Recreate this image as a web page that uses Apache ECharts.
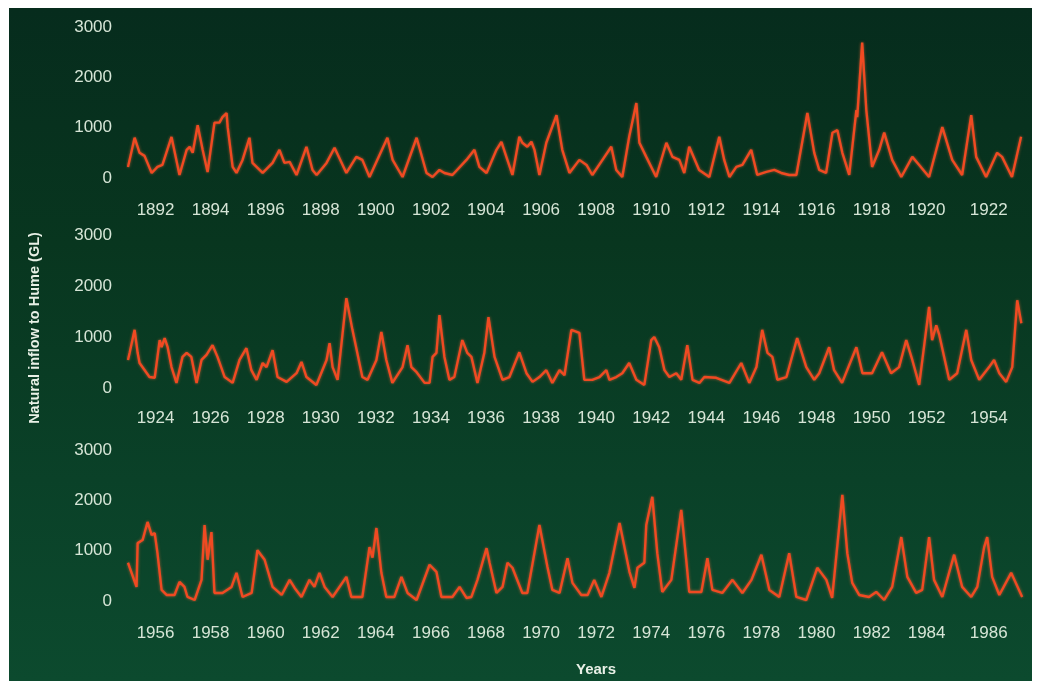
<!DOCTYPE html>
<html>
<head>
<meta charset="utf-8">
<script src="https://cdn.jsdelivr.net/npm/echarts@6/dist/echarts.min.js"></script>
<style>
html,body{margin:0;padding:0;background:#ffffff;}
#frame{position:absolute;left:9px;top:8px;width:1023px;height:673px;
background:linear-gradient(180deg,#062c1d 0%,#08361f 35%,#0a4128 70%,#0c4a2e 100%);}
#chart{position:absolute;left:0;top:0;width:1039px;height:689px;}
</style>
</head>
<body>
<div id="frame"></div>
<div id="chart"></div>
<script>
// ---- data (decimal year, GL) ----
const t1 = [1891.00,1891.24,1891.42,1891.60,1891.86,1892.07,1892.25,1892.58,1892.87,1893.13,1893.24,1893.35,1893.53,1893.71,1893.89,1894.14,1894.32,1894.43,1894.58,1894.62,1894.80,1894.94,1895.16,1895.41,1895.52,1895.89,1896.25,1896.50,1896.68,1896.87,1897.12,1897.48,1897.70,1897.85,1898.21,1898.50,1898.93,1899.29,1899.51,1899.77,1900.42,1900.61,1900.97,1901.48,1901.84,1902.06,1902.31,1902.49,1902.78,1903.29,1903.58,1903.76,1904.02,1904.38,1904.56,1904.74,1904.96,1905.21,1905.32,1905.50,1905.65,1905.76,1905.94,1906.19,1906.56,1906.77,1907.03,1907.39,1907.65,1907.86,1908.23,1908.55,1908.73,1908.95,1909.20,1909.46,1909.57,1909.82,1910.18,1910.55,1910.77,1911.02,1911.20,1911.38,1911.74,1912.11,1912.47,1912.65,1912.84,1913.09,1913.31,1913.63,1913.85,1914.18,1914.47,1914.72,1915.01,1915.27,1915.67,1915.92,1916.10,1916.35,1916.58,1916.76,1916.94,1917.19,1917.45,1917.48,1917.66,1917.81,1918.02,1918.28,1918.46,1918.75,1919.08,1919.48,1919.73,1920.09,1920.57,1920.93,1921.29,1921.62,1921.80,1922.16,1922.56,1922.74,1923.10,1923.43];
const v1 = [220,800,500,440,100,220,260,815,60,560,620,500,1050,560,120,1100,1100,1210,1290,1010,220,100,360,800,300,100,300,560,300,320,60,620,160,60,300,600,100,420,360,20,800,360,20,800,100,20,160,100,60,360,560,220,100,560,720,420,60,820,700,620,720,560,60,700,1250,560,100,360,260,60,360,620,160,20,820,1490,700,420,20,700,420,360,100,620,160,20,820,360,20,220,260,560,60,120,160,100,60,60,1290,500,160,100,900,950,500,60,1350,1210,2690,1350,220,560,900,360,20,420,260,20,1010,360,60,1250,420,20,500,420,20,820];

const t2 = [1923.00,1923.06,1923.24,1923.35,1923.42,1923.78,1923.97,1924.15,1924.22,1924.33,1924.44,1924.58,1924.76,1924.98,1925.13,1925.30,1925.49,1925.67,1925.85,1926.07,1926.25,1926.51,1926.80,1927.05,1927.30,1927.48,1927.67,1927.89,1928.03,1928.25,1928.43,1928.76,1929.12,1929.30,1929.48,1929.84,1930.21,1930.32,1930.43,1930.61,1930.93,1931.15,1931.51,1931.70,1932.02,1932.20,1932.38,1932.60,1932.97,1933.15,1933.29,1933.48,1933.77,1933.95,1934.06,1934.20,1934.31,1934.49,1934.67,1934.85,1935.14,1935.32,1935.47,1935.69,1935.94,1936.09,1936.31,1936.60,1936.85,1937.21,1937.47,1937.69,1937.94,1938.19,1938.41,1938.67,1938.85,1939.10,1939.39,1939.57,1939.86,1940.12,1940.37,1940.48,1940.73,1940.95,1941.20,1941.46,1941.75,1942.00,1942.11,1942.29,1942.48,1942.66,1942.91,1943.09,1943.31,1943.50,1943.75,1943.93,1944.36,1944.84,1945.27,1945.56,1945.82,1946.03,1946.22,1946.40,1946.58,1946.91,1947.30,1947.63,1947.92,1948.10,1948.46,1948.64,1948.93,1949.45,1949.67,1949.84,1950.02,1950.38,1950.71,1951.00,1951.26,1951.48,1951.73,1952.09,1952.20,1952.35,1952.46,1952.82,1953.11,1953.44,1953.62,1953.91,1954.27,1954.45,1954.64,1954.89,1955.11,1955.29,1955.44];
const v2 = [550,690,1140,690,490,215,200,940,800,980,800,410,100,610,690,610,100,550,650,840,610,215,100,550,780,350,160,490,410,740,215,120,290,510,215,60,550,880,410,160,1760,1140,215,160,550,1100,550,100,410,840,410,310,100,100,610,690,1430,610,160,215,940,690,610,100,690,1390,610,160,215,700,290,120,215,350,100,350,250,1140,1080,160,160,215,350,160,215,290,490,160,60,940,1000,800,350,215,290,160,840,160,100,215,200,100,490,100,410,1140,690,610,160,215,980,410,160,290,800,350,100,800,290,290,290,700,290,410,940,550,60,1590,940,1230,1040,160,290,1140,550,160,410,550,290,120,410,1720,1270];

const t3 = [1955.00,1955.31,1955.35,1955.53,1955.71,1955.86,1955.97,1956.07,1956.22,1956.40,1956.69,1956.87,1957.05,1957.16,1957.42,1957.67,1957.78,1957.89,1958.03,1958.14,1958.43,1958.76,1958.94,1959.16,1959.49,1959.70,1959.96,1960.25,1960.58,1960.87,1961.05,1961.30,1961.59,1961.77,1961.95,1962.14,1962.43,1962.93,1963.11,1963.51,1963.77,1963.88,1964.02,1964.20,1964.38,1964.67,1964.93,1965.15,1965.48,1965.95,1966.20,1966.38,1966.78,1967.04,1967.29,1967.47,1967.69,1968.02,1968.13,1968.38,1968.60,1968.78,1968.96,1969.32,1969.50,1969.94,1970.23,1970.41,1970.67,1970.96,1971.14,1971.46,1971.69,1971.93,1972.19,1972.48,1972.85,1973.21,1973.39,1973.50,1973.75,1973.82,1974.04,1974.22,1974.40,1974.73,1975.09,1975.27,1975.38,1975.82,1976.04,1976.22,1976.58,1976.95,1977.31,1977.64,1978.00,1978.29,1978.65,1979.01,1979.27,1979.63,1980.03,1980.36,1980.57,1980.94,1981.12,1981.30,1981.55,1981.91,1982.17,1982.46,1982.75,1983.08,1983.30,1983.62,1983.84,1984.09,1984.27,1984.57,1985.00,1985.29,1985.62,1985.84,1986.09,1986.20,1986.38,1986.64,1987.07,1987.47];
const v3 = [760,280,1150,1210,1570,1310,1350,950,220,120,120,380,280,80,20,420,1510,820,1370,160,160,280,560,80,160,1010,820,280,120,420,260,80,420,280,560,280,80,480,80,80,1070,860,1450,560,80,80,480,160,20,720,580,80,80,280,60,80,420,1050,760,160,280,760,660,160,160,1510,680,220,160,850,360,120,120,420,80,560,1550,580,260,660,760,1510,2070,950,180,420,1810,820,180,180,850,220,160,420,160,420,920,220,80,950,80,20,660,420,60,2110,950,360,120,80,180,20,280,1270,480,160,220,1270,420,80,920,280,80,280,1070,1270,480,120,560,80];

const ticks1 = [1892,1894,1896,1898,1900,1902,1904,1906,1908,1910,1912,1914,1916,1918,1920,1922];
const ticks2 = [1924,1926,1928,1930,1932,1934,1936,1938,1940,1942,1944,1946,1948,1950,1952,1954];
const ticks3 = [1956,1958,1960,1962,1964,1966,1968,1970,1972,1974,1976,1978,1980,1982,1984,1986];
const yTicks = [0,1000,2000,3000];
const yTitle = 'Natural inflow to Hume (GL)';
const xTitle = 'Years';

// ---- chart ----
const zip = (t, v) => t.map((x, i) => [x, v[i]]);
const panels = [
  {t: t1, v: v1, ticks: ticks1, min: 1891, max: 1923.5, top: 27, height: 151, margin: 24},
  {t: t2, v: v2, ticks: ticks2, min: 1923, max: 1955.5, top: 235, height: 153, margin: 22},
  {t: t3, v: v3, ticks: ticks3, min: 1955, max: 1987.5, top: 450, height: 151, margin: 24}
];
const txt = '#d6e5d6';
const font = 'Liberation Sans';
const chart = echarts.init(document.getElementById('chart'), null, {renderer: 'canvas'});
chart.setOption({
  backgroundColor: 'transparent',
  animation: false,
  grid: panels.map(p => ({left: 128, width: 895, top: p.top, height: p.height})),
  xAxis: panels.map((p, i) => ({
    type: 'value', gridIndex: i, min: p.min, max: p.max,
    axisLine: {show: false}, axisTick: {show: false}, splitLine: {show: false},
    axisLabel: {
      customValues: p.ticks, margin: p.margin, color: txt, fontFamily: font, fontSize: 17,
      formatter: v => (v === p.ticks[p.ticks.length - 1]) ? '{s|' + v + '}' : String(v),
      rich: {s: {color: txt, fontFamily: font, fontSize: 17, padding: [0, 0, 0, 14]}}
    }
  })),
  yAxis: panels.map((p, i) => ({
    type: 'value', gridIndex: i, min: 0, max: 3000, interval: 1000,
    axisLine: {show: false}, axisTick: {show: false}, splitLine: {show: false},
    axisLabel: {margin: 16, color: txt, fontFamily: font, fontSize: 17,
      formatter: v => yTicks.includes(v) ? String(v) : ''}
  })),
  graphic: [
    {type: 'text', x: 35, y: 328, rotation: Math.PI / 2,
     style: {text: yTitle, fill: '#e8f0e6', font: 'bold 14.5px "Liberation Sans"', align: 'center', verticalAlign: 'middle'}},
    {type: 'text', x: 596, y: 670,
     style: {text: xTitle, fill: '#e8f0e6', font: 'bold 15px "Liberation Sans"', align: 'center', verticalAlign: 'middle'}}
  ],
  series: panels.map((p, i) => ({
    type: 'line', xAxisIndex: i, yAxisIndex: i, data: zip(p.t, p.v),
    showSymbol: false, symbol: 'none', smooth: false,
    lineStyle: {color: '#f04a22', width: 2.4, shadowColor: 'rgba(255,110,60,0.6)', shadowBlur: 3}
  }))
});
</script>
</body>
</html>
